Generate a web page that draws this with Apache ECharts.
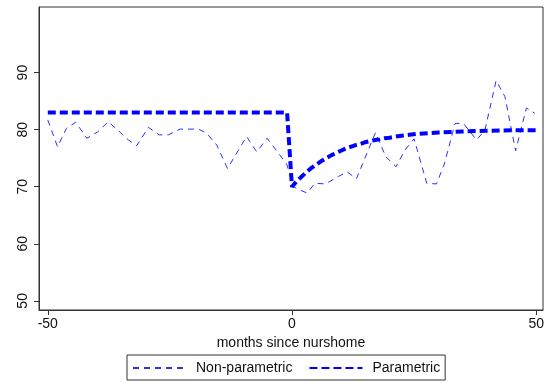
<!DOCTYPE html>
<html>
<head>
<meta charset="utf-8">
<script src="https://cdn.jsdelivr.net/npm/echarts@6/dist/echarts.min.js"></script>
<style>
html,body{margin:0;padding:0;background:#fff;}
#chart{width:548px;height:383px;}
</style>
</head>
<body>
<div id="chart"></div>
<script>
// Non-parametric estimate (months since nursing home, value)
var npMonths = [-50, -48, -46.2, -44.3, -42, -39.8, -37.6, -35.5, -33.5, -31.8, -29.4, -27.2, -25.3, -22.9, -19.2, -17.5, -15.4, -13.2, -9.3, -7.2, -5.1, -1.1,
                0.3, 1.7, 3.1, 4.7, 6.9, 9.5, 11.3, 13.2, 17.1, 19.2, 21.3, 23.1, 25.0, 27.6, 29.6, 31.2, 33.4, 35.1, 37.8, 39.5, 41.8, 43.6, 45.8, 48.0, 49.7];
var npValues = [81.7, 77.0, 80.2, 81.3, 78.5, 79.6, 81.4, 79.8, 78.2, 77.2, 80.4, 79.1, 79.1, 80.1, 80.1, 79.4, 77.3, 73.2, 78.8, 76.1, 78.5, 74.0,
                70.0, 69.4, 68.9, 70.6, 70.5, 71.8, 72.6, 71.4, 79.5, 75.3, 73.5, 76.4, 78.4, 70.6, 70.5, 74.0, 81.1, 81.1, 78.2, 79.9, 88.6, 85.8, 76.3, 83.8, 82.9];

// Parametric fit
var pMonths = [-50, -1, 0, 1, 2, 3, 4, 5, 6, 7, 8, 9, 10, 11, 12, 13, 14, 15, 16, 17, 18, 19, 20, 22, 24, 26, 28, 30, 35, 40, 45, 50];
var pValues = [83, 83, 70.0, 71.0, 71.8, 72.6, 73.3, 73.9, 74.5, 75.0, 75.5, 75.9, 76.3, 76.7, 77.0, 77.3, 77.5, 77.8, 78.0, 78.2, 78.3, 78.5, 78.6, 78.9, 79.1, 79.3, 79.4, 79.5, 79.7, 79.8, 79.9, 79.9];

var xTicks = [-50, 0, 50];
var yTicks = [50, 60, 70, 80, 90];
var seriesNames = ['Non-parametric', 'Parametric'];

function pairs(xs, ys){ return xs.map(function(x,i){ return [x, ys[i]]; }); }

var chart = echarts.init(document.getElementById('chart'), null, {renderer:'canvas'});
var font = 'Liberation Sans, Arial, Helvetica, sans-serif';
chart.setOption({
  animation: false,
  backgroundColor: '#fff',
  textStyle: {fontFamily: font},
  grid: {left: 39, right: 5, top: 7, bottom: 73, show: true, borderColor: '#333', borderWidth: 1},
  legend: {
    data: seriesNames,
    left: 127, top: 355,
    orient: 'horizontal',
    itemWidth: 53, itemHeight: 10, itemGap: 16,
    padding: [6, 5, 5, 5],
    borderColor: '#333', borderWidth: 1,
    itemStyle: {opacity: 0},
    textStyle: {fontSize: 14, color: '#111', fontFamily: font, padding: [0, 0, 0, 5]}
  },
  xAxis: {
    type: 'value', min: -51.8, max: 51.4,
    name: 'months since nurshome', nameLocation: 'middle', nameGap: 23,
    nameTextStyle: {fontSize: 14, color: '#111', fontFamily: font},
    axisLine: {show: true, onZero: false, lineStyle: {color: '#333', width: 1}},
    axisTick: {show: true, length: 5, inside: false, customValues: xTicks, lineStyle: {color: '#333'}},
    axisLabel: {show: true, customValues: xTicks, fontSize: 14, color: '#111', margin: 7, fontFamily: font},
    splitLine: {show: false}
  },
  yAxis: {
    type: 'value', min: 48.4, max: 101.5,
    axisLine: {show: true, onZero: false, lineStyle: {color: '#333', width: 1}},
    axisTick: {show: true, length: 5, inside: false, customValues: yTicks, lineStyle: {color: '#333'}},
    axisLabel: {show: true, customValues: yTicks, rotate: 90, fontSize: 14, color: '#111', margin: 9, fontFamily: font},
    splitLine: {show: false}
  },
  series: [
    {
      name: seriesNames[0], type: 'line', data: pairs(npMonths, npValues),
      showSymbol: false, symbol: 'none',
      lineStyle: {color: '#2f2fff', width: 1, type: [6, 5]},
      itemStyle: {color: '#2f2fff'},
      z: 2
    },
    {
      name: seriesNames[1], type: 'line', data: pairs(pMonths, pValues),
      showSymbol: false, symbol: 'none',
      lineStyle: {color: '#0000ff', width: 4, type: [8, 4]},
      itemStyle: {color: '#0000ff'},
      z: 3
    }
  ]
});
</script>
</body>
</html>
